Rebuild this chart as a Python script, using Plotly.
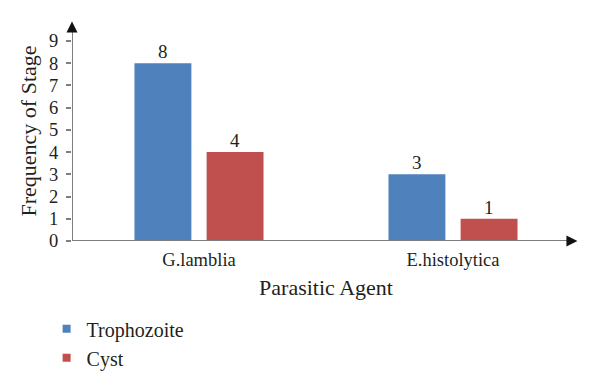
import plotly.graph_objects as go

categories = ["G.lamblia", "E.histolytica"]
trophozoite = [8, 3]
cyst = [4, 1]
y_ticks = [0, 1, 2, 3, 4, 5, 6, 7, 8, 9]
series_names = ["Trophozoite", "Cyst"]

FONT = "Liberation Serif"
BLUE = "#4F81BD"
RED = "#C0504D"
AXIS = "#7F7F7F"
HEAD = "#111111"
TXT = "#231F20"

xpos = list(range(len(categories)))
X_MIN, X_MAX, X_TIP = -0.5, 1.5, 1.49
Y_MAX, Y_TIP = 9.9, 9.88
BAR_W = 0.224

fig = go.Figure()
for name, vals, col, off in [(series_names[0], trophozoite, BLUE, -0.254),
                             (series_names[1], cyst, RED, 0.03)]:
    fig.add_trace(go.Bar(
        x=xpos, y=vals, name=name, marker_color=col, marker_line_width=0,
        width=BAR_W, offset=off, showlegend=False, hoverinfo="skip",
    ))
    # value labels above the bars
    for xi, v in zip(xpos, vals):
        fig.add_annotation(x=xi + off + BAR_W / 2, y=v, xref="x", yref="y",
                           text=str(v), showarrow=False, yanchor="bottom",
                           yshift=-1, font=dict(family=FONT, size=19, color=TXT))
    # legend entry with a small square symbol
    fig.add_trace(go.Scatter(
        x=[None], y=[None], mode="markers", name=name,
        marker=dict(symbol="square", size=8, color=col),
    ))

fig.update_layout(
    width=600, height=385,
    margin=dict(l=72, r=20, t=21, b=144, autoexpand=False),
    plot_bgcolor="white", paper_bgcolor="white",
    barmode="overlay",
    font=dict(family=FONT, size=18.5, color=TXT),
    showlegend=True,
    legend=dict(x=-0.05, y=-0.31, xanchor="left", yanchor="top",
                orientation="v", itemwidth=30,
                font=dict(family=FONT, size=20, color=TXT),
                tracegroupgap=0, itemclick=False),
    xaxis=dict(
        range=[X_MIN, X_MAX], tickmode="array", tickvals=xpos, ticktext=categories,
        showline=False, ticks="", showgrid=False, zeroline=False, automargin=False,
        ticklabelstandoff=5,
        title=dict(text="Parasitic Agent", standoff=11),
    ),
    yaxis=dict(
        range=[0, Y_MAX], tickmode="array", tickvals=y_ticks,
        showline=False, ticks="outside", ticklen=5, tickcolor=AXIS, tickwidth=1.5,
        showgrid=False, zeroline=False, automargin=False,
        ticklabelstandoff=4,
        title=dict(text="Frequency of Stage", standoff=6),
    ),
)

# axis lines (gray) with black arrowheads
fig.add_shape(type="line", xref="x", yref="y", x0=X_MIN, x1=X_TIP - 0.02, y0=0, y1=0,
              line=dict(color=AXIS, width=2))
fig.add_shape(type="line", xref="x", yref="y", x0=X_MIN, x1=X_MIN, y0=0, y1=Y_TIP - 0.3,
              line=dict(color=AXIS, width=2))
fig.add_annotation(x=X_MIN, y=Y_TIP, ax=X_MIN, ay=Y_TIP - 0.45, xref="x", yref="y",
                   axref="x", ayref="y", showarrow=True, arrowhead=2,
                   arrowsize=1.1, arrowwidth=2, arrowcolor=HEAD, text="")
fig.add_annotation(x=X_TIP, y=0, ax=X_TIP - 0.04, ay=0, xref="x", yref="y",
                   axref="x", ayref="y", showarrow=True, arrowhead=2,
                   arrowsize=1.1, arrowwidth=2, arrowcolor=HEAD, text="")

fig.write_html("out.html", config={"displayModeBar": False},
               post_script="document.body.style.margin='0px';")
